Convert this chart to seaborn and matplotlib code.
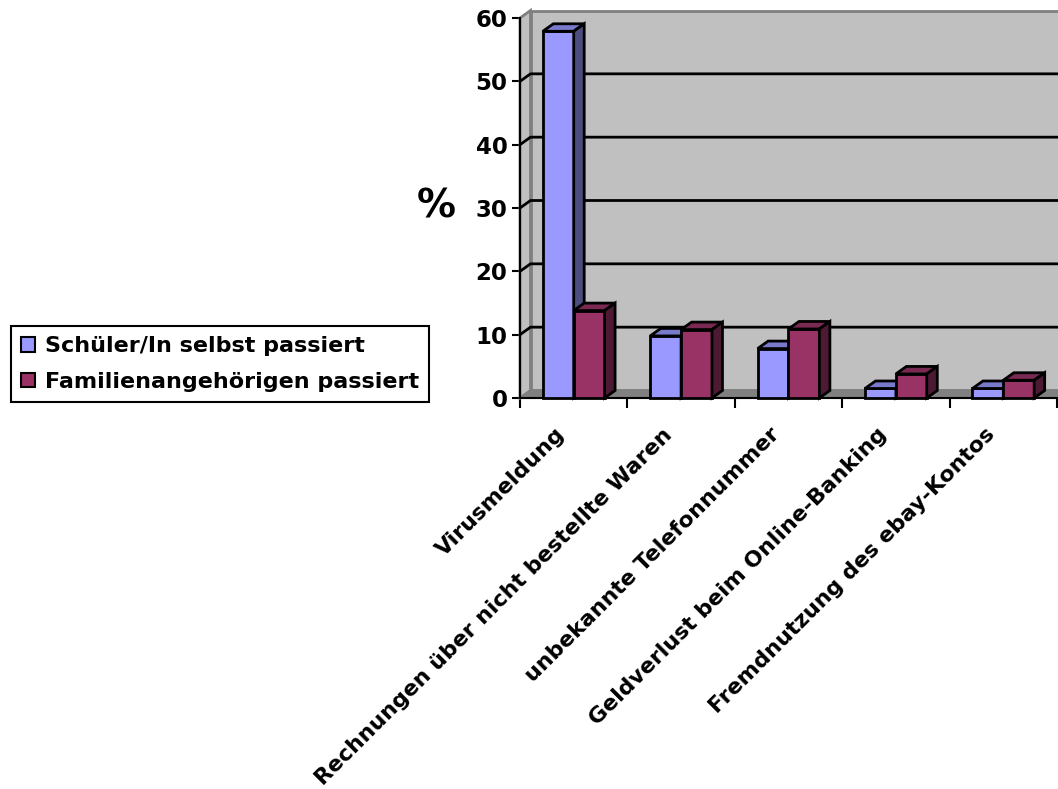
import numpy as np
import pandas as pd
import matplotlib
matplotlib.use("Agg")
import matplotlib.pyplot as plt
from matplotlib.patches import Polygon, Patch
from matplotlib.colors import to_rgb
from matplotlib.transforms import ScaledTranslation
import seaborn as sns

# --- data -------------------------------------------------------------
categories = [
    "Virusmeldung",
    "Rechnungen über nicht bestellte Waren",
    "unbekannte Telefonnummer",
    "Geldverlust beim Online-Banking",
    "Fremdnutzung des ebay-Kontos",
]
series = ["Schüler/In selbst passiert", "Familienangehörigen passiert"]
selbst = [57.9, 9.8, 7.8, 1.5, 1.5]
familie = [13.8, 10.8, 10.9, 3.8, 2.8]
y_ticks = [0, 10, 20, 30, 40, 50, 60]

df = pd.DataFrame({
    "Kategorie": categories * 2,
    "Serie": [series[0]] * len(categories) + [series[1]] * len(categories),
    "Prozent": selbst + familie,
})

# --- style ------------------------------------------------------------
sns.set_theme(style="ticks")
plt.rcParams["font.family"] = ["DejaVu Sans"]
plt.rcParams["font.weight"] = "bold"
for key in ("text.color", "axes.labelcolor", "xtick.color", "ytick.color"):
    plt.rcParams[key] = "black"

front_colors = ["#9999FF", "#993366"]
wall_color = "#C0C0C0"
edge_gray = "#808080"


def shade(color, f):
    r, g, b = to_rgb(color)
    return (r * f, g * f, b * f)


W, H = 1058, 789
fig = plt.figure(figsize=(W / 100, H / 100), dpi=100)
ax_left, ax_bottom, ax_w, ax_h = 520, 398, 537, 380   # pixel geometry of the plot box
ax = fig.add_axes([ax_left / W, 1 - ax_bottom / H, ax_w / W, ax_h / H])
ax.set_facecolor("none")

sns.barplot(
    data=df, x="Kategorie", y="Prozent", hue="Serie",
    palette=front_colors, saturation=1, width=0.575, gap=0,
    edgecolor="black", linewidth=2, legend=False, ax=ax,
)

n = len(categories)
x0, x1 = -0.5, n - 0.5
ymax = y_ticks[-1]
ax.set_xlim(x0, x1)
ax.set_ylim(0, ymax)

# depth offset of the pseudo-3D box, in data units
dx = 10.5 / (ax_w / n)
dy = 7.5 / (ax_h / ymax)

# back wall
ax.add_patch(Polygon([(x0 + dx, dy), (x1 + dx, dy), (x1 + dx, ymax + dy), (x0 + dx, ymax + dy)],
                     closed=True, fc=wall_color, ec=edge_gray, lw=2, zorder=0.5, clip_on=False))
# side wall
ax.add_patch(Polygon([(x0, 0), (x0 + dx, dy), (x0 + dx, ymax + dy), (x0, ymax)],
                     closed=True, fc=wall_color, ec=edge_gray, lw=2, zorder=0.6, clip_on=False))
# floor
ax.add_patch(Polygon([(x0, 0), (x1, 0), (x1 + dx, dy), (x0 + dx, dy)],
                     closed=True, fc=edge_gray, ec=edge_gray, lw=1.5, zorder=0.7, clip_on=False))

# gridlines on the back wall, joined to the front axis
for v in y_ticks[1:-1]:
    ax.plot([x0, x0 + dx, x1 + dx], [v, v + dy, v + dy], color="black", lw=2,
            zorder=1, clip_on=False, solid_capstyle="butt")

# top and side faces of each bar
bars = sorted([p for c in ax.containers for p in c], key=lambda p: p.get_x())
for i, p in enumerate(bars):
    x, w, h = p.get_x(), p.get_width(), p.get_height()
    fc = p.get_facecolor()
    z = 3 + i * 0.1
    p.set_zorder(z)
    p.set_joinstyle("miter")
    p.set_clip_on(False)
    top = Polygon([(x, h), (x + w, h), (x + w + dx, h + dy), (x + dx, h + dy)], closed=True,
                  fc=shade(fc, 0.8), ec="black", lw=2, zorder=z + 0.01, clip_on=False,
                  joinstyle="miter")
    side = Polygon([(x + w, 0), (x + w + dx, dy), (x + w + dx, h + dy), (x + w, h)], closed=True,
                   fc=shade(fc, 0.5), ec="black", lw=2, zorder=z + 0.02, clip_on=False,
                   joinstyle="miter")
    ax.add_patch(top)
    ax.add_patch(side)

# axes lines and ticks
sns.despine(ax=ax, top=True, right=True)
for s in ("left", "bottom"):
    ax.spines[s].set_color("black")
    ax.spines[s].set_linewidth(1.5)
    ax.spines[s].set_zorder(2)

ax.set_yticks(y_ticks)
ax.tick_params(axis="y", which="major", direction="out", length=6, width=1.5,
               labelsize=16.5, pad=3, color="black", labelcolor="black")
ax.set_xticks(range(n))
ax.set_xticklabels(categories)
ax.set_xticks(np.arange(n + 1) - 0.5, minor=True)
ax.tick_params(axis="x", which="major", length=0, labelsize=15.8, pad=24, labelcolor="black")
ax.tick_params(axis="x", which="minor", direction="out", length=7.5, width=1.5, color="black")
shift = ScaledTranslation(-12 / 100, 0, fig.dpi_scale_trans)
for lbl in ax.get_xticklabels():
    lbl.set_rotation(45)
    lbl.set_ha("right")
    lbl.set_va("center")
    lbl.set_rotation_mode("anchor")
    lbl.set_fontweight("bold")
    lbl.set_transform(lbl.get_transform() + shift)
for lbl in ax.get_yticklabels():
    lbl.set_fontweight("bold")

ax.set_xlabel("")
ax.set_ylabel("%", rotation=0, fontsize=28, fontweight="bold", ha="center", va="center",
              color="black")
ax.yaxis.set_label_coords((436 - ax_left) / ax_w, (ax_bottom - 207) / ax_h)

# legend
handles = [Patch(fc=c, ec="black", lw=1.5, label=s) for c, s in zip(front_colors, series)]
leg = fig.legend(handles=handles, loc="center", bbox_to_anchor=(220 / W, 1 - 364 / H),
                 frameon=True, fancybox=False, edgecolor="black", framealpha=1,
                 prop={"weight": "bold", "size": 16}, handlelength=0.65, handleheight=0.65,
                 handletextpad=0.45, labelspacing=0.7, borderpad=0.45, borderaxespad=0)
leg.get_frame().set_linewidth(1.5)
for t in leg.get_texts():
    t.set_color("black")

fig.savefig("out.png", dpi=100, facecolor="white")
